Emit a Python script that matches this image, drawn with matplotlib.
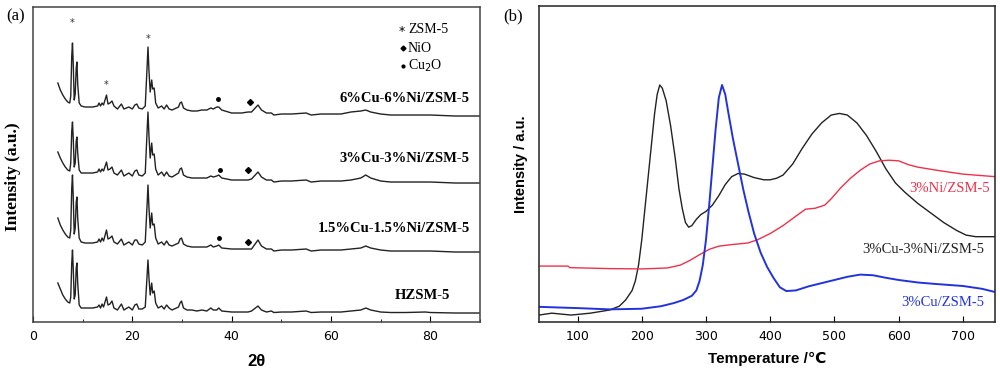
import matplotlib
matplotlib.use("Agg")
import matplotlib.pyplot as plt

# ---- panel (a): XRD patterns ----
two_theta = [5, 5.5, 6, 6.5, 7, 7.4, 7.6, 7.8, 7.95, 8.1,
             8.3, 8.5, 8.7, 8.85, 9.0, 9.3, 9.7, 10.5, 12, 13,
             13.3, 13.6, 13.9, 14.2, 14.8, 15.1, 15.5, 15.9, 16.3, 17,
             17.8, 18.3, 19.3, 20, 20.5, 20.9, 21.3, 22, 22.6, 23.0,
             23.15, 23.35, 23.6, 23.9, 24.1, 24.4, 24.7, 25.2, 25.9, 26.4,
             26.9, 27.4, 28, 29.3, 29.6, 29.9, 30.3, 31, 32, 33,
             34, 35, 35.8, 36.3, 37, 37.4, 38, 40, 42, 43.3,
             44, 45.3, 46, 47, 48, 48.5, 50, 52, 55, 56,
             58, 60, 62, 64, 66, 67, 68, 70, 72, 75,
             79, 80, 85, 90]

hzsm5 = [30, 24, 18, 14, 11, 10, 16, 50, 63, 45,
         14, 18, 45, 50, 30, 8, 5, 5, 5, 6,
         8, 5, 9, 6, 16, 8, 9, 12, 5, 3,
         9, 3, 6, 3, 8, 9, 4, 4, 6, 40,
         53, 35, 18, 30, 20, 22, 10, 5, 7, 4,
         8, 5, 3, 6, 10, 12, 5, 3, 3, 2,
         3, 2, 5, 3, 3, 5, 2, 1, 1, 1,
         2, 7, 3, 1, 2, 0.5, 1, 1, 2, 0.5,
         1, 1, 1, 2, 3, 5, 3, 1, 0.5, 0.5,
         1, 0.5, 0, 0]

cu15ni15 = [34, 27, 22, 18, 15, 14, 22, 64, 77, 55,
            18, 24, 50, 55, 34, 14, 10, 9, 9, 10,
            13, 10, 14, 11, 22, 13, 14, 16, 10, 8,
            13, 7, 10, 7, 12, 12, 8, 7, 10, 50,
            67, 44, 24, 39, 27, 28, 14, 8, 10, 7,
            11, 7, 6, 9, 13, 14, 8, 6, 5, 5,
            5, 5, 7, 5, 6, 7, 4, 3, 3, 3,
            3, 12, 6, 3, 3, 1, 2, 2, 3, 1,
            2, 2, 2, 3, 4, 6, 4, 2, 1, 1,
            1, 1, 0, 0]

cu3ni3 = [31, 25, 20, 16, 13, 12, 20, 52, 61, 45,
          16, 20, 42, 46, 30, 13, 10, 10, 10, 11,
          14, 11, 14, 12, 21, 13, 14, 16, 10, 8,
          13, 7, 10, 7, 12, 13, 8, 7, 10, 55,
          71, 47, 25, 40, 28, 29, 14, 8, 11, 7,
          11, 7, 6, 10, 14, 15, 8, 6, 5, 5,
          5, 5, 7, 6, 7, 8, 5, 3, 3, 3,
          4, 11, 6, 3, 3, 1, 2, 2, 3, 1,
          2, 2, 2, 3, 5, 8, 5, 2, 1, 1,
          1, 1, 0, 0]

cu6ni6 = [33, 26, 21, 17, 14, 13, 20, 60, 73, 52,
          16, 22, 48, 54, 32, 13, 10, 9, 9, 10,
          13, 10, 13, 11, 21, 12, 13, 15, 10, 7,
          12, 7, 9, 7, 11, 12, 8, 7, 10, 52,
          69, 45, 24, 36, 27, 28, 13, 8, 10, 7,
          11, 7, 6, 9, 13, 14, 8, 6, 5, 5,
          6, 6, 8, 7, 9, 9, 6, 3, 3, 4,
          4, 11, 6, 3, 3, 1, 2, 2, 3, 1,
          2, 2, 2, 4, 5, 6, 4, 2, 1, 1,
          1, 1, 0, 0]

xrd_names = ["HZSM-5", "1.5%Cu-1.5%Ni/ZSM-5", "3%Cu-3%Ni/ZSM-5", "6%Cu-6%Ni/ZSM-5"]
xrd_series = [hzsm5, cu15ni15, cu3ni3, cu6ni6]
xrd_offsets = [9, 70, 139, 206]
# label anchor (2theta of right end, height)
xrd_label_x = [84, 87.9, 87.9, 87.9]
xrd_label_y = [27, 94, 164, 224]

# peak markers
zsm_marks = [(7.8, 299), (14.7, 237), (23.1, 283)]
cu2o_marks = [(37.3, 223), (37.6, 152), (37.5, 84)]
nio_marks = [(43.7, 220), (43.3, 152), (43.3, 80)]

# ---- panel (b): H2-TPR ----
t_cuni = [40, 60, 90, 120, 150, 165, 175, 185, 190, 195, 200, 205, 210, 215, 220,
          224, 228, 232, 238, 245, 252, 258, 263, 268, 273, 278, 285, 292, 300,
          310, 320, 330, 340, 350, 360, 375, 390, 400, 410, 420, 435, 450, 465,
          480, 495, 508, 520, 535, 550, 565, 580, 595, 610, 630, 650, 670, 690,
          705, 720, 750]
i_cuni = [2.2, 2.8, 2.2, 2.8, 3.8, 5, 7, 10, 13, 18, 26, 36, 46, 56, 66,
          72, 75, 74, 70, 62, 52, 42, 36, 31.5, 30, 30.5, 32.5, 34, 35,
          37, 40, 43.5, 46, 47, 46.8, 45.7, 45, 45, 45.5, 46.5, 50, 55, 59.5,
          63, 65.5, 66, 65.5, 63, 59, 54, 48.5, 44, 41, 37.5, 34.5, 31.5, 29,
          27.5, 27, 27]

t_ni = [40, 85, 88, 150, 200, 240, 260, 275, 290, 305, 320, 340, 365, 380, 400,
        420, 440, 455, 470, 485, 495, 510, 525, 540, 555, 570, 585, 600, 615,
        630, 660, 700, 750]
i_ni = [17.7, 17.7, 17.2, 16.9, 16.8, 17.1, 18, 19.5, 21.3, 23, 24, 24.5, 25, 26, 28,
        30.5, 33.5, 35.7, 36, 37, 39, 42.5, 45.5, 48, 50, 51, 51.2, 51, 49.8,
        49, 48, 46.8, 46]

t_cu = [40, 100, 150, 200, 230, 250, 265, 278, 285, 290, 295, 300, 305, 310, 315,
        320, 325, 330, 335, 342, 350, 358, 366, 375, 385, 395, 405, 415, 425,
        440, 460, 480, 500, 520, 540, 560, 580, 600, 630, 660, 700, 730, 750]
i_cu = [4.8, 4.4, 4.0, 4.2, 5.0, 6, 7, 8.3, 10, 13, 18, 26, 37, 49, 61,
        71, 75, 72, 66, 58, 50, 42, 35, 28, 22, 17.5, 14, 11, 9.8,
        10, 11.3, 12.3, 13.3, 14.3, 15, 14.8, 14, 13.3, 12.5, 12, 11.4, 10.5, 9.5]

tpr_names = ["3%Cu-3%Ni/ZSM-5", "3%Ni/ZSM-5", "3%Cu/ZSM-5"]
tpr_colors = ["#222222", "#f0304a", "#2233dd"]
tpr_label_x = [638, 680, 668]
tpr_label_y = [22.8, 42.4, 6.3]

serif = "Liberation Serif"
sans = ["Liberation Sans", "DejaVu Sans"]

fig = plt.figure(figsize=(10, 3.75), dpi=100)

# panel (a)
ax1 = fig.add_axes([0.033, 0.1413, 0.447, 0.84])
for vals, off in zip(xrd_series, xrd_offsets):
    ax1.plot(two_theta, [v + off for v in vals], color="#222222", lw=1.0)
for x, y in zsm_marks:
    ax1.text(x, y, "*", ha="center", va="center", fontsize=7, color="#333333")
for x, y in cu2o_marks:
    ax1.plot(x, y, "o", ms=2.5, color="black")
for x, y in nio_marks:
    ax1.plot(x, y, "D", ms=3, color="black")
for name, x, y in zip(xrd_names, xrd_label_x, xrd_label_y):
    ax1.text(x, y, name, ha="right", va="center", fontsize=10.5,
             fontweight="bold", family=serif)

# phase legend
ax1.text(74.2, 291, "*", ha="center", va="center", fontsize=9)
ax1.text(75.5, 293, "ZSM-5", va="center", fontsize=10, family=serif)
ax1.plot(74.4, 274, "D", ms=2.5, color="black")
ax1.text(75.5, 274, "NiO", va="center", fontsize=10, family=serif)
ax1.plot(74.4, 256, "o", ms=2, color="black")
ax1.text(75.5, 256, "Cu$_2$O", va="center", fontsize=10, family=serif)

ax1.set_xlim(0, 90)
ax1.set_ylim(0, 315)
ax1.set_xticks([0, 20, 40, 60, 80])
ax1.set_xticks([10, 30, 50, 70, 90], minor=True)
ax1.set_yticks([])
ax1.tick_params(axis="x", direction="in", length=4, labelsize=9, pad=6)
ax1.tick_params(axis="x", which="minor", direction="in", length=2)
for s in ax1.spines.values():
    s.set_color("#444444")
    s.set_linewidth(1.1)
ax1.set_xlabel("2θ", fontsize=12, fontweight="bold", family=sans, labelpad=8)
ax1.set_ylabel("Intensity (a.u.)", fontsize=12.5, fontweight="bold", family=serif)
ax1.yaxis.set_label_coords(-0.027, 0.46)
fig.text(0.006, 0.955, "(a)", fontsize=12, family=serif, va="center")

# panel (b)
ax2 = fig.add_axes([0.539, 0.1413, 0.456, 0.8427])
ax2.plot(t_cuni, i_cuni, color=tpr_colors[0], lw=1.0)
ax2.plot(t_ni, i_ni, color=tpr_colors[1], lw=1.0)
ax2.plot(t_cu, i_cu, color=tpr_colors[2], lw=1.4)
for name, c, x, y in zip(tpr_names, tpr_colors, tpr_label_x, tpr_label_y):
    ax2.text(x, y, name, color=c, ha="center", va="center", fontsize=10.5, family=serif)
ax2.set_xlim(40, 750)
ax2.set_ylim(0, 100)
ax2.set_xticks([100, 200, 300, 400, 500, 600, 700])
ax2.set_yticks([])
ax2.tick_params(axis="x", direction="in", length=4, labelsize=9, pad=6)
for s in ax2.spines.values():
    s.set_color("#222222")
    s.set_linewidth(1.1)
ax2.set_xlabel("Temperature /℃", fontsize=11, fontweight="bold", family=sans, labelpad=6)
ax2.set_ylabel("Intensity / a.u.", fontsize=10.5, fontweight="bold", family=sans, labelpad=8)
fig.text(0.503, 0.955, "(b)", fontsize=12, family=serif, va="center")

fig.savefig("out.png", dpi=100)
